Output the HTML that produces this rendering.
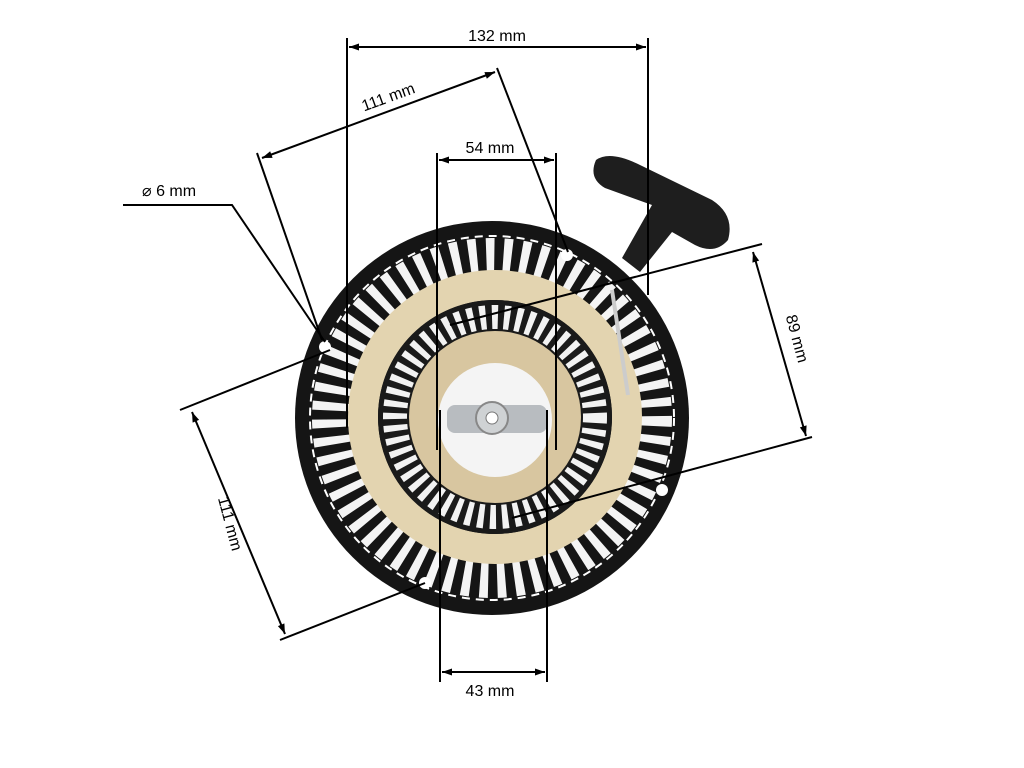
<!DOCTYPE html>
<html><head><style>html,body{margin:0;padding:0;background:#fff}svg{display:block}</style></head>
<body>
<svg width="1024" height="768" viewBox="0 0 1024 768" xmlns="http://www.w3.org/2000/svg">
<defs>
<marker id="a" viewBox="0 0 10 10" refX="10" refY="5" markerWidth="6" markerHeight="5" orient="auto-start-reverse"><path d="M0,1.5 L10,5 L0,8.5 z" fill="#000"/></marker>
</defs>
<rect width="1024" height="768" fill="#fff"/>
<!-- handle -->
<path d="M622,258 L652,205 L605,188 Q588,178 596,160 Q610,150 640,165 L712,200 Q735,215 728,240 Q715,255 695,245 L672,232 L640,272 z" fill="#1e1e1e"/>
<!-- main disc -->
<circle cx="492" cy="418" r="197" fill="#151515"/>
<circle cx="492" cy="418" r="182" fill="none" stroke="#fff" stroke-width="2" stroke-dasharray="8 6"/>
<circle cx="492" cy="418" r="160" fill="none" stroke="#f4f4f4" stroke-width="40" stroke-dasharray="8 9"/>
<!-- ears -->
<circle cx="325" cy="347" r="6" fill="#fff"/>
<circle cx="567" cy="255" r="6" fill="#fff"/>
<circle cx="662" cy="490" r="6" fill="#fff"/>
<circle cx="425" cy="583" r="6" fill="#fff"/>
<!-- beige ring -->
<circle cx="495" cy="417" r="132" fill="none" stroke="#e3d4b0" stroke-width="30"/>
<circle cx="495" cy="417" r="117" fill="#1a1a1a"/>
<circle cx="495" cy="417" r="100" fill="none" stroke="#f2f2f2" stroke-width="24" stroke-dasharray="6 6"/>
<circle cx="495" cy="417" r="86" fill="#d8c6a0"/>
<circle cx="495" cy="420" r="57" fill="#f4f4f4"/>
<rect x="447" y="405" width="100" height="28" rx="8" fill="#b8bcc0"/>
<circle cx="492" cy="418" r="16" fill="#cfd2d4" stroke="#888" stroke-width="2"/>
<circle cx="492" cy="418" r="6" fill="#fff" stroke="#777"/>
<path d="M612,290 L628,395" stroke="#ccc" stroke-width="4"/>
<g stroke="#000" stroke-width="2" fill="none">
<line x1="347" y1="38" x2="347" y2="428"/>
<line x1="648" y1="38" x2="648" y2="295"/>
<line x1="349" y1="47" x2="646" y2="47" marker-start="url(#a)" marker-end="url(#a)"/>
<line x1="262" y1="158" x2="495" y2="72" marker-start="url(#a)" marker-end="url(#a)"/>
<line x1="497" y1="68" x2="568" y2="252"/>
<line x1="257" y1="153" x2="322" y2="340"/>
<line x1="439" y1="160" x2="554" y2="160" marker-start="url(#a)" marker-end="url(#a)"/>
<line x1="437" y1="153" x2="437" y2="450"/>
<line x1="556" y1="153" x2="556" y2="450"/>
<line x1="440" y1="410" x2="440" y2="682"/>
<line x1="547" y1="410" x2="547" y2="682"/>
<line x1="442" y1="672" x2="545" y2="672" marker-start="url(#a)" marker-end="url(#a)"/>
<polyline points="123,205 232,205 325,342"/>
<line x1="762" y1="244" x2="450" y2="325"/>
<line x1="812" y1="437" x2="512" y2="518"/>
<line x1="753" y1="252" x2="806" y2="436" marker-start="url(#a)" marker-end="url(#a)"/>
<line x1="180" y1="410" x2="330" y2="350"/>
<line x1="280" y1="640" x2="425" y2="583"/>
<line x1="192" y1="412" x2="285" y2="634" marker-start="url(#a)" marker-end="url(#a)"/>
</g>
<g font-family="Liberation Sans, sans-serif" font-size="16" fill="#000">
<text x="497" y="41" text-anchor="middle">132 mm</text>
<text x="390" y="102" text-anchor="middle" transform="rotate(-20 390 102)">111 mm</text>
<text x="490" y="153" text-anchor="middle">54 mm</text>
<text x="490" y="696" text-anchor="middle">43 mm</text>
<text x="142" y="196">⌀ 6 mm</text>
<text x="792" y="340" text-anchor="middle" transform="rotate(75 792 340)">89 mm</text>
<text x="225" y="525" text-anchor="middle" transform="rotate(75 225 525)">111 mm</text>
</g>
</svg>
</body></html>
